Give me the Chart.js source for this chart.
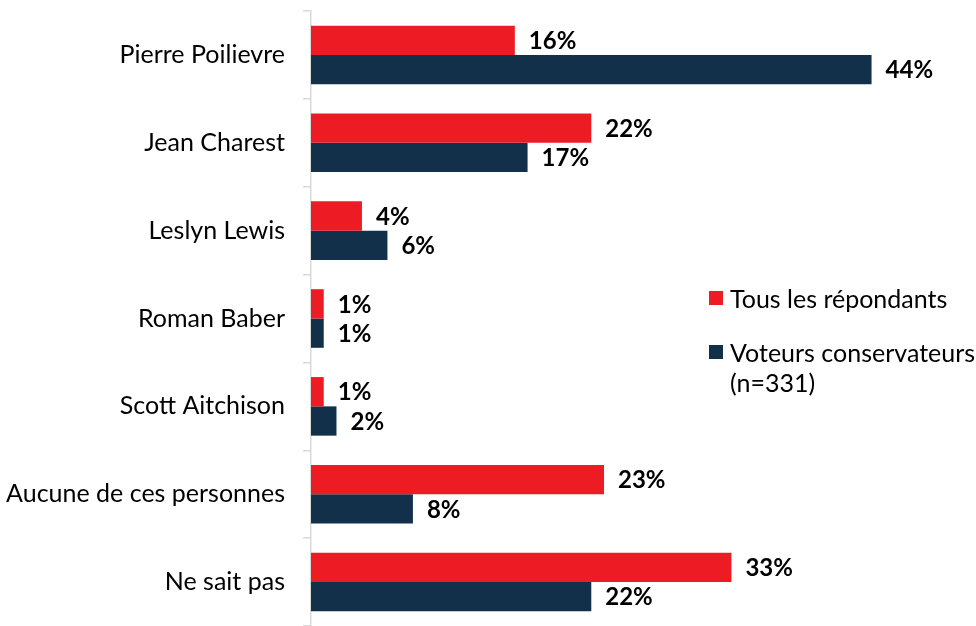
<!DOCTYPE html>
<html>
<head>
<meta charset="utf-8">
<script src="https://cdn.jsdelivr.net/npm/chart.js@4.4.1/dist/chart.umd.min.js"></script>
<style>
  html, body { margin: 0; padding: 0; background: #fff; }
  #wrap { position: relative; width: 976px; height: 626px; overflow: hidden; }
  canvas { display: block; }
  .item { position: absolute; left: 709px; padding-left: 21px; font-family: Lato, "Open Sans", sans-serif; font-size: 25px; color: #000; line-height: 30px; white-space: nowrap; }
  .sw { position: absolute; left: 0; top: 8px; width: 14px; height: 14px; }
</style>
</head>
<body>
<div id="wrap">
  <canvas id="c" width="976" height="626"></canvas>
  <div class="item" style="top:283px"><span class="sw" style="background:#ED1C24"></span>Tous les répondants</div>
  <div class="item" style="top:337px"><span class="sw" style="background:#13304A"></span>Voteurs conservateurs<br>(n=331)</div>
</div>
<script>
const categories = ["Pierre Poilievre", "Jean Charest", "Leslyn Lewis", "Roman Baber", "Scott Aitchison", "Aucune de ces personnes", "Ne sait pas"];
const seriesNames = ["Tous les répondants", "Voteurs conservateurs (n=331)"];
const allRespondents = [16, 22, 4, 1, 1, 23, 33];
const conservativeVoters = [44, 17, 6, 1, 2, 8, 22];

const FONT = "Lato, 'Open Sans', sans-serif";

const valueLabels = {
  id: 'valueLabels',
  afterDatasetsDraw(chart) {
    const ctx = chart.ctx;
    ctx.save();
    ctx.font = "bold 24px " + FONT;
    ctx.fillStyle = "#000";
    ctx.textAlign = "left";
    ctx.textBaseline = "middle";
    chart.data.datasets.forEach((ds, di) => {
      chart.getDatasetMeta(di).data.forEach((bar, i) => {
        ctx.fillText(ds.data[i] + "%", bar.x + 14, bar.y + 1);
      });
    });
    ctx.restore();
  }
};

new Chart(document.getElementById('c'), {
  type: 'bar',
  data: {
    labels: categories,
    datasets: [
      { label: seriesNames[0], data: allRespondents, backgroundColor: '#ED1C24', categoryPercentage: 0.667, barPercentage: 1.0 },
      { label: seriesNames[1], data: conservativeVoters, backgroundColor: '#13304A', categoryPercentage: 0.667, barPercentage: 1.0 }
    ]
  },
  options: {
    indexAxis: 'y',
    responsive: false,
    animation: false,
    layout: { padding: { top: 11, right: 28, bottom: 0, left: 0 } },
    plugins: { legend: { display: false }, tooltip: { enabled: false } },
    scales: {
      x: { display: false, min: 0, max: 50 },
      y: {
        afterFit(scale) { scale.width = 311; scale.paddingTop = 0; scale.paddingBottom = 0; },
        border: { color: '#D9D9D9', width: 1.5 },
        grid: { display: true, drawOnChartArea: false, offset: true, tickLength: 8, color: '#D9D9D9', lineWidth: 1.5 },
        ticks: { color: '#000', padding: 18, font: { family: FONT, size: 25 } }
      }
    }
  },
  plugins: [valueLabels]
});
</script>
</body>
</html>
